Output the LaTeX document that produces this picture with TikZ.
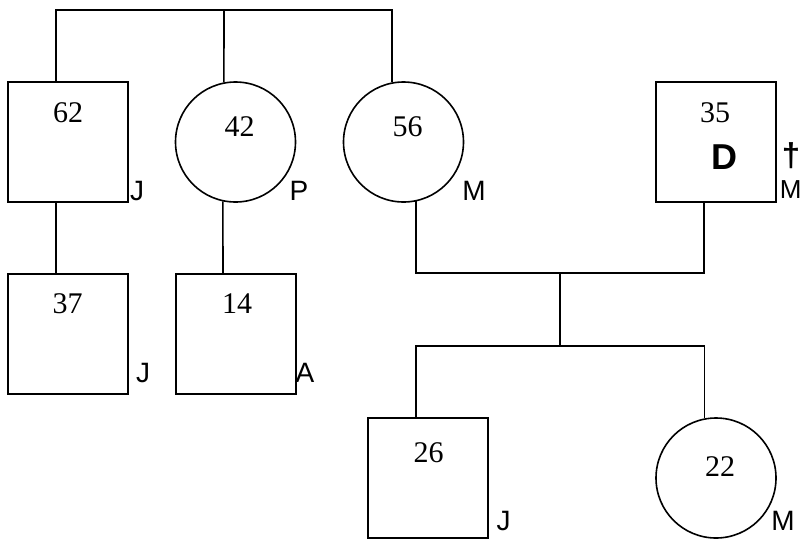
\documentclass[tikz,border=0pt]{standalone}
\usepackage{fontspec}
\setmainfont{Liberation Serif}
\newfontfamily\arialfont{Liberation Sans}
\usetikzlibrary{calc}
\begin{document}
\begin{tikzpicture}[x=1pt,y=-1pt,line width=1.6pt,
  male/.style={draw,rectangle,minimum size=120pt,inner sep=0pt},
  female/.style={draw,circle,minimum size=120pt,inner sep=0pt},
  age/.style={inner sep=0pt,font=\fontsize{30}{30}\selectfont},
  lab/.style={inner sep=0pt,font=\arialfont\fontsize{28}{28}\selectfont},
  big/.style={inner sep=0pt,font=\arialfont\bfseries\fontsize{36}{36}\selectfont}]
\useasboundingbox[fill=white] (0,0) rectangle (803,539);
% persons
\node[male]   (b62) at (68,142) {};
\node[female] (c42) at (235.5,142) {};
\node[female] (c56) at (403.5,142) {};
\node[male]   (b35) at (716,142) {};
\node[male]   (b37) at (68,334) {};
\node[male]   (b14) at (236,334) {};
\node[male]   (b26) at (428,478) {};
\node[female] (c22) at (716,478) {};
% ages
\node[age] (a62) at (68,113) {62};
\node[age] (a42) at (239.5,127) {42};
\node[age] (a56) at (407.5,127) {56};
\node[age] (a35) at (715,113) {35};
\node[age] (a37) at (67.5,304) {37};
\node[age] (a14) at (237,304) {14};
\node[age] (a26) at (428.5,453) {26};
\node[age] (a22) at (720,467) {22};
% letters
\node[lab] (l62) at (137,191) {J};
\node[lab] (l42) at (299,191) {P};
\node[lab] (l56) at (474,191) {M};
\node[big] (d35) at (724,157.5) {D};
\node[inner sep=0pt,font=\arialfont\bfseries\fontsize{33}{33}\selectfont] (x35) at (791,156) {†};
\node[lab,anchor=west,font=\arialfont\fontsize{26}{26}\selectfont] (l35) at (779,189.5) {M};
\node[lab] (l37) at (143,372.5) {J};
\node[lab] (l14) at (305,372.5) {A};
\node[lab] (l26) at (503.5,521) {J};
\node[lab] (l22) at (783,521) {M};
% connectors
\coordinate (top) at (224,10);
\coordinate (mar) at (560,273);
\coordinate (sib) at (560,346);
\draw ([xshift=-12pt]b62.north) |- (top) -| (c56.101);
\draw (top) -- (c42.101);
\draw ([xshift=-12pt]b62.south) -- ([xshift=-12pt]b37.north);
\draw (c42.-102) -- ([xshift=-13pt]b14.north);
\draw (c56.-78) |- (mar) -| ([xshift=-12pt]b35.south);
\draw (mar) -- (sib);
\draw ([xshift=-12pt]b26.north) |- (sib) -| (c22.101);
\end{tikzpicture}
\end{document}
